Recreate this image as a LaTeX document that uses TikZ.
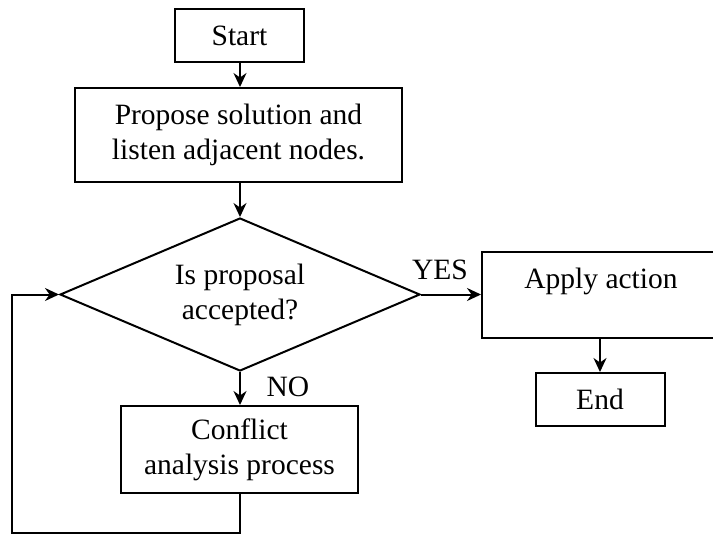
\documentclass[tikz,border=0pt]{standalone}
\usepackage{fontspec}
\setmainfont{Liberation Serif}
\usetikzlibrary{shapes.geometric,arrows.meta}

\tikzset{
  every node/.style={font=\fontsize{29.5}{35}\selectfont},
  box/.style={draw, line width=2pt, inner sep=0pt, align=center},
  decision/.style={draw, line width=2pt, shape=diamond, aspect=2.35,
    inner sep=0pt, minimum width=360pt, minimum height=153pt, align=center},
  flow/.style={line width=2pt, -{Stealth[length=14pt,width=13pt]}},
  tag/.style={inner sep=0pt}
}

\begin{document}
\begin{tikzpicture}[x=1pt,y=-1pt]
  \useasboundingbox (0,0) rectangle (713,535);
  \clip (0,0) rectangle (713,535);

  % process steps
  \node[box, minimum width=129pt, minimum height=53pt] (start) at (239.5,35.5) {Start};
  \node[box, minimum width=327pt, minimum height=94pt] (propose) at (238.5,135)
    {Propose solution and\\listen adjacent nodes.};
  \node[decision] (check) at (240,294.5) {Is proposal\\accepted?};
  \node[box, minimum width=238pt, text height=36pt, text depth=50pt, anchor=north west]
    (apply) at (481,251) {Apply action};
  \node[box, minimum width=129pt, minimum height=53pt] (finish) at (600,399.5) {End};
  \node[box, minimum width=237pt, minimum height=87pt] (conflict) at (239.5,449.5)
    {Conflict\\analysis process};

  % branch labels
  \node[tag] (yes) at (440,270) {YES};
  \node[tag] (no) at (288,387) {NO};

  % return path of the loop
  \coordinate (loopcorner) at (12,533);

  % connectors
  \draw[flow] (start.south -| check.north) -- (propose.north -| check.north);
  \draw[flow] (propose.south -| check.north) -- (check.north);
  \draw[flow] (check.east) -- (apply.west |- check.east);
  \draw[flow] (apply.south -| finish.north) -- (finish.north);
  \draw[flow] (check.south) -- (conflict.north -| check.south);
  \draw[flow] (conflict.south -| check.south) |- (loopcorner) |- (check.west);
\end{tikzpicture}
\end{document}
